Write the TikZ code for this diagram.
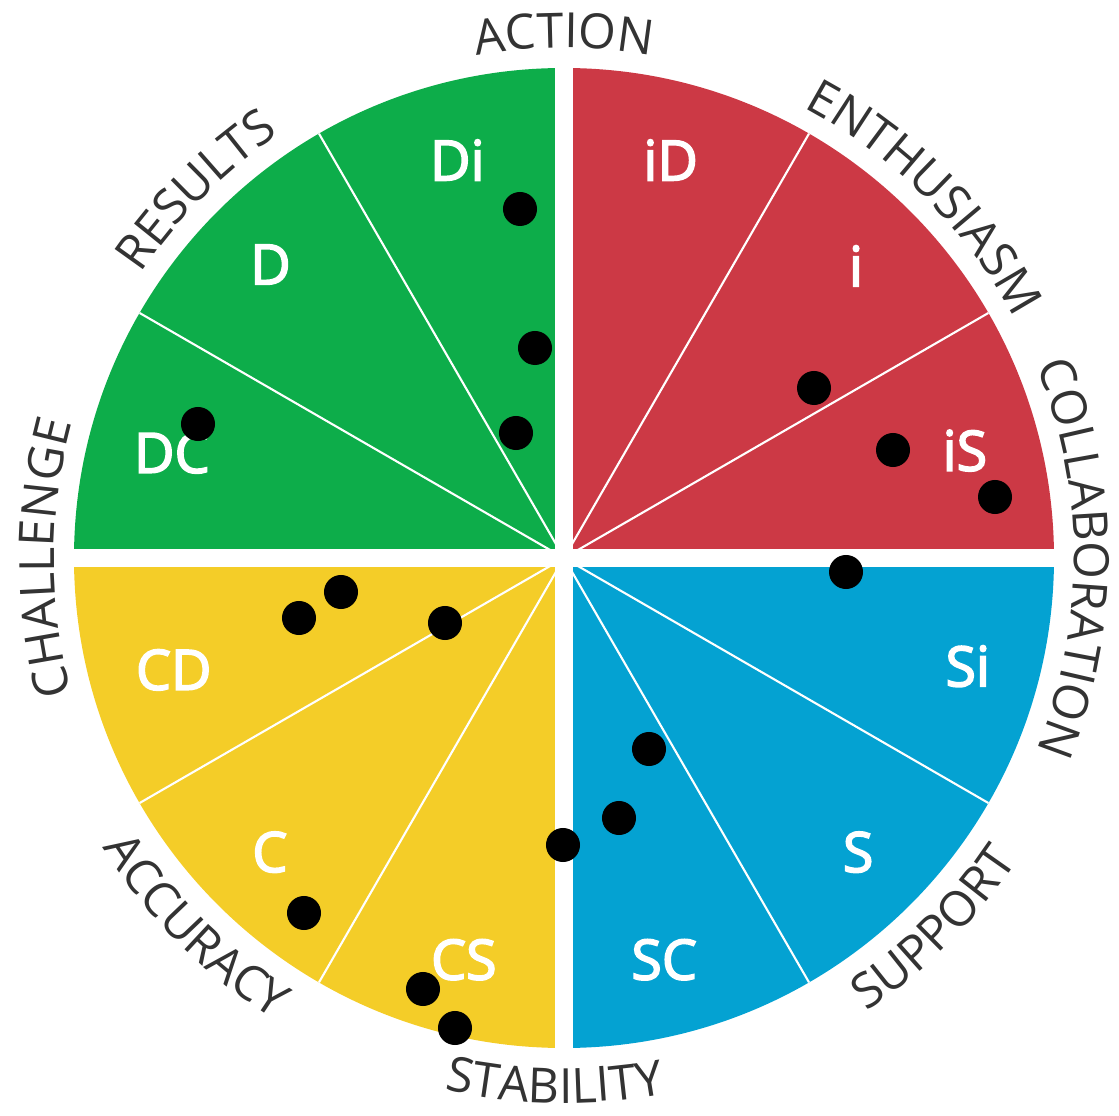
\documentclass[tikz,border=0pt]{standalone}
\usepackage{fontspec}
\setmainfont{Open Sans}
\newfontfamily\segfont[FakeBold=3]{Open Sans}
\usetikzlibrary{decorations.text}

\definecolor{discD}{RGB}{13,173,74}
\definecolor{discI}{RGB}{204,57,69}
\definecolor{discS}{RGB}{4,162,210}
\definecolor{discC}{RGB}{244,205,40}
\definecolor{labelgray}{RGB}{51,51,51}

\newcommand{\ringfont}{\fontsize{13.8}{14}\selectfont}

\tikzset{
  seg/.style={text=white, font=\segfont\fontsize{15.8}{16}\selectfont},
  dot/.style={circle, fill=black, inner sep=0pt, minimum size=0.34cm},
  spoke/.style={white, line width=0.6pt},
  gap/.style={white, line width=0.17cm},
  ringout/.style={decorate, decoration={text along path, text align=center, text={|\ringfont\color{labelgray}|#1}}},
  ringin/.style={decorate, decoration={text along path, text align=center, text={|\ringfont\color{labelgray}|#1}}}
}

\begin{document}
\begin{tikzpicture}[x=0.01cm,y=0.01cm]
\useasboundingbox (-564,-558) rectangle (555,558);
\coordinate (o) at (0,0);
% quadrants
\fill[discD] (o) -- (90:490) arc[start angle=90, end angle=180, radius=490] -- cycle;
\fill[discI] (o) -- (0:490) arc[start angle=0, end angle=90, radius=490] -- cycle;
\fill[discS] (o) -- (-90:490) arc[start angle=-90, end angle=0, radius=490] -- cycle;
\fill[discC] (o) -- (180:490) arc[start angle=180, end angle=270, radius=490] -- cycle;
% spokes
\foreach \a in {30,60,120,150,210,240,300,330}
  \draw[spoke] (o) -- (\a:490);
\draw[gap] (-500,0) -- (500,0);
\draw[gap] (0,-500) -- (0,500);

% segment names
\node[seg] (di) at (105:412) {Di};
\node[seg] (id) at (75:412) {iD};
\node[seg] (d) at (135:415) {D};
\node[seg] (i) at (45:413) {i};
\node[seg] (dc) at (165:406) {DC};
\node[seg] (is) at (15:415) {iS};
\node[seg] (si) at (-15:418) {Si};
\node[seg] (cd) at (-164:406) {CD};
\node[seg] (s) at (-45:416) {S};
\node[seg] (c) at (-135:416) {C};
\node[seg] (sc) at (-76:414) {SC};
\node[seg] (cs) at (-104:414) {CS};

% ring words
\path[ringout=ACTION] (130:510) arc[start angle=130, end angle=50, radius=510];
\path[ringout=ENTHUSIASM] (85:510) arc[start angle=85, end angle=5, radius=510];
\path[ringout=COLLABORATION] (40:510) arc[start angle=40, end angle=-40, radius=510];
\path[ringout=RESULTS] (175:510) arc[start angle=175, end angle=95, radius=510];
\path[ringout=CHALLENGE] (220:510) arc[start angle=220, end angle=140, radius=510];
\path[ringin=SUPPORT] (-85:545) arc[start angle=-85, end angle=-5, radius=545];
\path[ringin=STABILITY] (-131:545) arc[start angle=-131, end angle=-51, radius=545];
\path[ringin=ACCURACY] (-175:545) arc[start angle=-175, end angle=-95, radius=545];

% dots
\node[dot] (p1) at (-44,349) {};
\node[dot] (p2) at (-29,210) {};
\node[dot] (p3) at (-48,125) {};
\node[dot] (p4) at (-366,134) {};
\node[dot] (p5) at (250,170) {};
\node[dot] (p6) at (329,108) {};
\node[dot] (p7) at (431,61) {};
\node[dot] (p8) at (282,-14) {};
\node[dot] (p9) at (-223,-34) {};
\node[dot] (p10) at (-265,-60) {};
\node[dot] (p11) at (-119,-65) {};
\node[dot] (p12) at (85,-191) {};
\node[dot] (p13) at (55,-260) {};
\node[dot] (p14) at (-1,-287) {};
\node[dot] (p15) at (-260,-355) {};
\node[dot] (p16) at (-141,-431) {};
\node[dot] (p17) at (-109,-470) {};
\end{tikzpicture}
\end{document}
